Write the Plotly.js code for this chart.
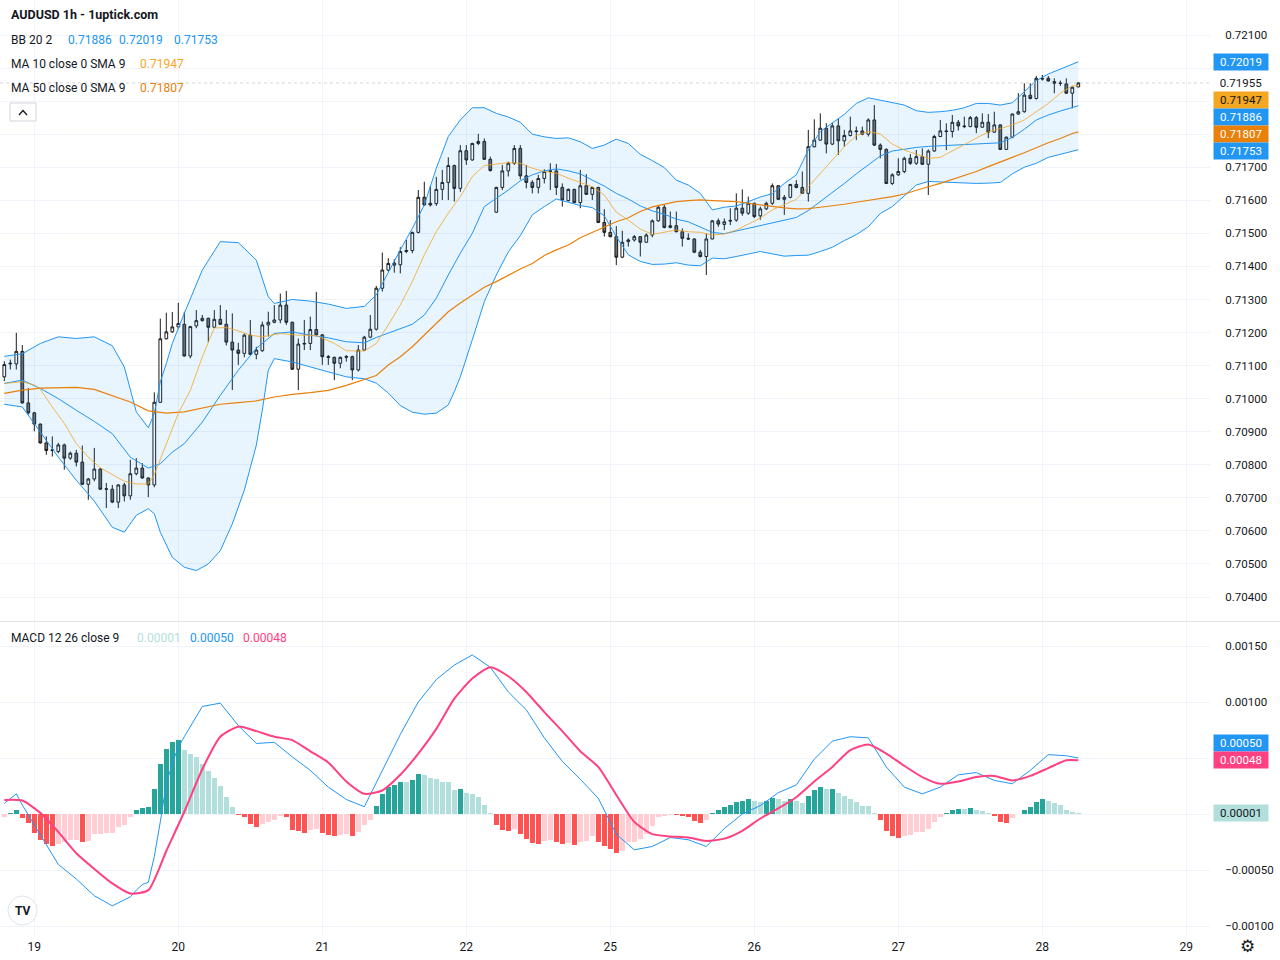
<!DOCTYPE html>
<html><head><meta charset="utf-8">
<script src="https://cdn.plot.ly/plotly-3.0.1.min.js"></script>
<style>html,body{margin:0;padding:0;background:#fff}#chart{width:1280px;height:960px}</style>
</head><body><div id="chart"></div>
<script>
// ---------- DATA ----------
const dayLabels = ['19','20','21','22','25','26','27','28','29'];

const openP = [0.71066,0.71105,0.71105,0.71143,0.70987,0.70957,0.70923,0.70866,0.70843,0.70840,
0.70860,0.70820,0.70835,0.70808,0.70741,0.70757,0.70787,0.70726,0.70726,0.70687,
0.70739,0.70706,0.70773,0.70790,0.70760,0.70739,0.70989,0.71181,0.71202,0.71217,
0.71225,0.71129,0.71220,0.71236,0.71243,0.71216,0.71240,0.71225,0.71171,0.71147,
0.71137,0.71192,0.71134,0.71145,0.71223,0.71231,0.71238,0.71283,0.71231,0.71089,
0.71165,0.71167,0.71209,0.71193,0.71127,0.71125,0.71107,0.71125,0.71127,0.71087,
0.71147,0.71186,0.71210,0.71334,0.71389,0.71404,0.71405,0.71445,0.71448,0.71503,
0.71609,0.71591,0.71590,0.71633,0.71654,0.71705,0.71636,0.71750,0.71722,0.71772,
0.71778,0.71724,0.71564,0.71639,0.71689,0.71712,0.71757,0.71674,0.71654,0.71639,
0.71666,0.71687,0.71689,0.71639,0.71599,0.71633,0.71593,0.71644,0.71618,0.71639,
0.71533,0.71503,0.71490,0.71428,0.71475,0.71480,0.71490,0.71473,0.71495,0.71538,
0.71579,0.71518,0.71523,0.71505,0.71485,0.71483,0.71443,0.71430,0.71483,0.71538,
0.71527,0.71537,0.71540,0.71576,0.71561,0.71591,0.71553,0.71574,0.71591,0.71644,
0.71603,0.71609,0.71648,0.71639,0.71621,0.71762,0.71782,0.71818,0.71770,0.71825,
0.71780,0.71796,0.71810,0.71810,0.71800,0.71843,0.71767,0.71754,0.71651,0.71677,
0.71687,0.71727,0.71712,0.71732,0.71709,0.71749,0.71793,0.71810,0.71808,0.71836,
0.71825,0.71823,0.71850,0.71821,0.71836,0.71806,0.71828,0.71754,0.71791,0.71861,
0.71868,0.71918,0.71908,0.71969,0.71969,0.71954,0.71954,0.71952,0.71924,0.71943];

const highP = [0.71113,0.71118,0.71199,0.71162,0.71032,0.70960,0.70925,0.70886,0.70886,0.70866,
0.70864,0.70840,0.70845,0.70858,0.70760,0.70851,0.70790,0.70745,0.70739,0.70741,
0.70745,0.70815,0.70820,0.70805,0.70762,0.71019,0.71242,0.71260,0.71262,0.71290,
0.71263,0.71220,0.71268,0.71253,0.71245,0.71268,0.71283,0.71268,0.71258,0.71169,
0.71197,0.71238,0.71157,0.71233,0.71263,0.71283,0.71318,0.71326,0.71233,0.71182,
0.71238,0.71248,0.71323,0.71195,0.71132,0.71127,0.71127,0.71132,0.71130,0.71162,
0.71190,0.71253,0.71341,0.71442,0.71425,0.71422,0.71458,0.71480,0.71505,0.71631,
0.71656,0.71643,0.71671,0.71692,0.71730,0.71708,0.71767,0.71767,0.71774,0.71801,
0.71787,0.71732,0.71641,0.71707,0.71717,0.71767,0.71767,0.71707,0.71661,0.71677,
0.71694,0.71712,0.71710,0.71651,0.71636,0.71635,0.71692,0.71679,0.71641,0.71641,
0.71573,0.71540,0.71522,0.71508,0.71485,0.71495,0.71492,0.71500,0.71542,0.71586,
0.71586,0.71566,0.71566,0.71515,0.71500,0.71485,0.71450,0.71500,0.71540,0.71545,
0.71545,0.71576,0.71621,0.71633,0.71611,0.71593,0.71581,0.71596,0.71651,0.71646,
0.71616,0.71649,0.71661,0.71687,0.71813,0.71845,0.71863,0.71833,0.71835,0.71848,
0.71813,0.71853,0.71823,0.71823,0.71848,0.71888,0.71772,0.71757,0.71682,0.71727,
0.71732,0.71740,0.71752,0.71757,0.71754,0.71798,0.71843,0.71833,0.71858,0.71843,
0.71853,0.71855,0.71855,0.71863,0.71861,0.71868,0.71830,0.71793,0.71863,0.71924,
0.71954,0.71954,0.71976,0.71979,0.71976,0.71969,0.71962,0.71969,0.71944,0.71957];

const lowP = [0.71053,0.71088,0.71088,0.70985,0.70952,0.70901,0.70864,0.70830,0.70825,0.70835,
0.70785,0.70815,0.70795,0.70739,0.70694,0.70750,0.70724,0.70669,0.70684,0.70669,
0.70689,0.70694,0.70768,0.70758,0.70702,0.70732,0.70987,0.71179,0.71199,0.71211,
0.71127,0.71122,0.71213,0.71233,0.71171,0.71214,0.71223,0.71161,0.71026,0.71102,
0.71125,0.71132,0.71119,0.71142,0.71188,0.71228,0.71228,0.71223,0.71087,0.71026,
0.71147,0.71147,0.71191,0.71102,0.71102,0.71056,0.71092,0.71112,0.71056,0.71082,
0.71145,0.71183,0.71206,0.71324,0.71384,0.71381,0.71379,0.71440,0.71440,0.71500,
0.71583,0.71581,0.71583,0.71601,0.71601,0.71596,0.71626,0.71707,0.71720,0.71767,
0.71722,0.71687,0.71562,0.71631,0.71672,0.71707,0.71663,0.71636,0.71621,0.71621,
0.71651,0.71631,0.71616,0.71581,0.71596,0.71591,0.71576,0.71616,0.71601,0.71531,
0.71490,0.71488,0.71404,0.71425,0.71460,0.71475,0.71430,0.71472,0.71488,0.71535,
0.71515,0.71515,0.71503,0.71460,0.71480,0.71440,0.71427,0.71374,0.71482,0.71520,
0.71510,0.71525,0.71535,0.71553,0.71556,0.71546,0.71541,0.71571,0.71586,0.71601,
0.71556,0.71606,0.71636,0.71619,0.71596,0.71760,0.71780,0.71742,0.71767,0.71737,
0.71762,0.71793,0.71782,0.71797,0.71793,0.71764,0.71727,0.71649,0.71646,0.71674,
0.71682,0.71707,0.71707,0.71707,0.71616,0.71747,0.71791,0.71752,0.71790,0.71811,
0.71818,0.71821,0.71803,0.71820,0.71788,0.71805,0.71752,0.71752,0.71788,0.71858,
0.71865,0.71905,0.71905,0.71962,0.71959,0.71924,0.71946,0.71922,0.71878,0.71942];

const closeP = [0.71103,0.71107,0.71143,0.70987,0.70957,0.70923,0.70866,0.70843,0.70845,0.70860,
0.70820,0.70835,0.70808,0.70741,0.70757,0.70787,0.70726,0.70727,0.70687,0.70739,
0.70706,0.70773,0.70790,0.70760,0.70739,0.70989,0.71181,0.71202,0.71217,0.71227,
0.71129,0.71218,0.71236,0.71243,0.71216,0.71240,0.71225,0.71171,0.71147,0.71137,
0.71192,0.71134,0.71147,0.71223,0.71231,0.71238,0.71283,0.71231,0.71089,0.71165,
0.71167,0.71209,0.71193,0.71127,0.71125,0.71107,0.71125,0.71127,0.71087,0.71147,
0.71186,0.71210,0.71334,0.71389,0.71409,0.71410,0.71445,0.71448,0.71503,0.71609,
0.71586,0.71586,0.71633,0.71654,0.71705,0.71636,0.71750,0.71722,0.71772,0.71778,
0.71724,0.71690,0.71639,0.71689,0.71712,0.71757,0.71674,0.71654,0.71639,0.71666,
0.71687,0.71689,0.71639,0.71601,0.71633,0.71593,0.71644,0.71618,0.71639,0.71533,
0.71503,0.71490,0.71428,0.71473,0.71480,0.71490,0.71473,0.71495,0.71538,0.71579,
0.71518,0.71523,0.71505,0.71485,0.71483,0.71443,0.71430,0.71483,0.71538,0.71528,
0.71535,0.71539,0.71576,0.71561,0.71591,0.71551,0.71574,0.71591,0.71644,0.71603,
0.71609,0.71648,0.71639,0.71621,0.71762,0.71782,0.71818,0.71770,0.71825,0.71780,
0.71796,0.71810,0.71808,0.71800,0.71843,0.71767,0.71754,0.71651,0.71677,0.71687,
0.71727,0.71712,0.71732,0.71709,0.71749,0.71793,0.71810,0.71808,0.71836,0.71825,
0.71823,0.71850,0.71821,0.71836,0.71806,0.71828,0.71754,0.71791,0.71861,0.71868,
0.71918,0.71908,0.71969,0.71967,0.71961,0.71959,0.71954,0.71924,0.71942,0.71955];

// Bollinger upper band (bar index, value)
const bbUpperIdx = [0,3,6,9,12,15,18,20,22,24,25,26,27,28,30,33,36,39,42,44,45,48,51,54,57,
60,62,64,66,68,70,72,74,76,78,80,82,84,86,88,90,92,94,96,98,100,102,104,106,108,110,112,114,116,118,
120,122,124,126,128,130,132,134,136,138,140,142,144,146,148,150,152,154,156,158,160,162,164,166,168,170,172,174,176,178,179];
const bbUpper = [0.71128,0.71136,0.71167,0.71187,0.71182,0.71187,0.71160,0.71096,0.70960,0.70912,0.70955,0.71051,0.71106,0.71167,0.71258,0.71389,0.71475,0.71472,0.71419,0.71308,0.71288,0.71300,0.71295,0.71286,0.71273,
0.71279,0.71314,0.71384,0.71450,0.71515,0.71586,0.71697,0.71793,0.71843,0.71880,0.71880,0.71863,0.71852,0.71836,0.71800,0.71792,0.71787,0.71789,0.71777,0.71757,0.71767,0.71785,0.71772,0.71739,0.71720,0.71699,0.71661,0.71646,0.71621,0.71571,
0.71579,0.71583,0.71596,0.71610,0.71620,0.71651,0.71677,0.71752,0.71808,0.71835,0.71860,0.71893,0.71910,0.71903,0.71895,0.71888,0.71871,0.71866,0.71868,0.71872,0.71880,0.71893,0.71893,0.71888,0.71895,0.71929,0.71962,0.71982,0.71996,0.72012,0.72019];

const bbBasisIdx = [0,3,6,9,12,15,18,21,24,26,28,30,33,36,39,42,45,48,51,54,57,
60,62,64,66,68,70,72,74,76,78,80,82,84,86,88,90,92,94,96,98,100,102,104,106,108,110,112,114,116,118,
120,122,124,126,128,130,132,134,136,138,140,142,144,146,148,150,152,154,156,158,160,162,164,166,168,170,172,174,176,178,179];
const bbBasis = [0.71046,0.71056,0.71031,0.71000,0.70965,0.70931,0.70894,0.70823,0.70790,0.70803,0.70838,0.70864,0.70929,0.71010,0.71086,0.71152,0.71197,0.71202,0.71192,0.71184,0.71172,
0.71169,0.71185,0.71198,0.71210,0.71225,0.71253,0.71304,0.71374,0.71440,0.71500,0.71581,0.71606,0.71631,0.71659,0.71677,0.71689,0.71695,0.71689,0.71680,0.71661,0.71643,0.71621,0.71604,0.71583,0.71568,0.71558,0.71543,0.71535,0.71520,0.71503,
0.71499,0.71507,0.71515,0.71525,0.71532,0.71539,0.71548,0.71569,0.71596,0.71623,0.71651,0.71680,0.71707,0.71734,0.71749,0.71755,0.71760,0.71763,0.71765,0.71767,0.71769,0.71772,0.71772,0.71774,0.71790,0.71815,0.71843,0.71858,0.71870,0.71881,0.71886];

const bbLowerIdx = [0,3,6,9,12,15,18,20,22,24,25,26,28,30,32,34,36,38,40,42,43,44,45,48,51,54,57,
60,62,64,66,68,70,72,74,75,76,78,80,82,84,86,88,90,92,94,96,98,100,102,104,106,108,110,112,114,116,118,
120,122,124,126,128,130,132,134,136,138,140,142,144,146,148,150,152,154,156,158,160,162,164,166,168,170,172,174,176,178,179];
const bbLower = [0.70983,0.70975,0.70899,0.70823,0.70753,0.70690,0.70611,0.70596,0.70647,0.70667,0.70652,0.70596,0.70520,0.70490,0.70480,0.70500,0.70540,0.70621,0.70723,0.70859,0.70965,0.71086,0.71121,0.71111,0.71096,0.71081,0.71066,
0.71060,0.71047,0.71017,0.70979,0.70959,0.70953,0.70956,0.70981,0.71021,0.71066,0.71178,0.71293,0.71374,0.71444,0.71493,0.71556,0.71581,0.71604,0.71594,0.71584,0.71578,0.71553,0.71490,0.71435,0.71415,0.71406,0.71407,0.71411,0.71404,0.71402,0.71425,
0.71423,0.71430,0.71438,0.71445,0.71438,0.71431,0.71433,0.71434,0.71445,0.71458,0.71478,0.71496,0.71520,0.71560,0.71581,0.71613,0.71646,0.71657,0.71655,0.71654,0.71653,0.71651,0.71652,0.71654,0.71680,0.71700,0.71712,0.71730,0.71739,0.71749,0.71753];

const ma10Idx = [0,3,5,6,8,10,12,14,16,18,20,22,24,25,27,29,31,33,35,37,39,41,43,46,49,52,55,57,
60,62,64,66,68,70,72,74,76,78,80,82,84,86,88,90,92,94,96,98,100,102,104,106,108,110,112,114,116,118,
120,122,124,126,128,130,132,134,136,138,140,142,144,146,148,150,152,154,156,158,160,162,164,166,168,170,172,174,176,178,179];
const ma10 = [0.71046,0.71051,0.71041,0.71028,0.70975,0.70925,0.70864,0.70823,0.70791,0.70771,0.70750,0.70742,0.70742,0.70770,0.70864,0.70955,0.71025,0.71126,0.71214,0.71215,0.71205,0.71192,0.71187,0.71197,0.71192,0.71191,0.71167,0.71145,
0.71144,0.71167,0.71223,0.71283,0.71354,0.71435,0.71505,0.71561,0.71611,0.71672,0.71705,0.71710,0.71714,0.71712,0.71697,0.71687,0.71682,0.71667,0.71653,0.71641,0.71616,0.71564,0.71540,0.71513,0.71497,0.71503,0.71510,0.71505,0.71503,0.71495,
0.71498,0.71510,0.71528,0.71546,0.71571,0.71586,0.71603,0.71641,0.71682,0.71720,0.71762,0.71796,0.71808,0.71801,0.71770,0.71752,0.71740,0.71727,0.71730,0.71749,0.71767,0.71788,0.71807,0.71817,0.71828,0.71843,0.71868,0.71893,0.71924,0.71946,0.71947];

const ma50Idx = [0,3,6,12,15,18,21,24,27,30,33,36,39,42,45,48,51,54,57,
60,62,64,66,68,70,72,74,76,78,80,82,84,86,88,90,92,94,96,98,100,102,104,106,108,110,112,114,116,118,
120,122,124,126,128,130,132,134,136,138,140,142,144,146,148,150,152,154,156,158,160,162,164,166,168,170,172,174,176,178,179];
const ma50 = [0.71016,0.71026,0.71032,0.71034,0.71028,0.71009,0.70990,0.70963,0.70956,0.70960,0.70972,0.70983,0.70988,0.70993,0.71005,0.71013,0.71018,0.71025,0.71040,
0.71057,0.71070,0.71102,0.71127,0.71157,0.71193,0.71230,0.71263,0.71289,0.71314,0.71337,0.71354,0.71374,0.71392,0.71409,0.71433,0.71450,0.71465,0.71487,0.71503,0.71520,0.71535,0.71547,0.71566,0.71580,0.71589,0.71596,0.71599,0.71601,0.71599,
0.71598,0.71596,0.71591,0.71586,0.71581,0.71577,0.71574,0.71575,0.71579,0.71583,0.71588,0.71594,0.71599,0.71606,0.71611,0.71619,0.71631,0.71641,0.71651,0.71663,0.71675,0.71687,0.71702,0.71715,0.71730,0.71744,0.71760,0.71774,0.71787,0.71802,0.71807];

const macdIdx = [0,2,3,6,9,12,15,18,21,22,23,24,25,26,27,28,29,30,33,36,39,42,45,48,51,54,57,
60,63,66,69,72,75,78,81,84,87,90,93,96,99,102,105,108,111,114,117,120,123,126,129,132,135,138,141,144,147,150,153,156,159,162,165,168,171,174,177,179];
const macdLine = [0.000095,0.00018,0.00008,-0.00019,-0.00045,-0.00058,-0.00073,-0.00082,-0.00074,-0.00068,-0.00063,-0.00061,-0.00038,-0.00007,0.00027,0.00045,0.00060,0.00069,0.00096,0.00099,0.00079,0.00063,0.00064,0.00051,0.00039,0.00024,0.00013,
0.000065,0.00039,0.00071,0.00100,0.00120,0.00133,0.00142,0.00131,0.00109,0.00093,0.00068,0.00047,0.00031,0.00014,-0.00018,-0.00032,-0.00029,-0.00021,-0.00023,-0.00029,-0.00013,0.00000,0.000075,0.00019,0.00026,0.00049,0.00065,0.00069,0.00068,0.00042,0.00024,0.00018,0.00024,0.00035,0.00037,0.00030,0.00027,0.00039,0.00053,0.00052,0.00050];

const signalIdx = [0,3,6,9,12,15,18,21,24,27,30,33,36,39,42,45,48,51,54,57,60,63,66,69,72,75,78,81,84,87,90,93,96,99,102,105,108,111,114,117,120,123,126,129,132,135,138,141,144,147,150,153,156,159,162,165,168,171,174,177,179];
const signalLine = [0.000125,0.00012,0.00001,-0.00016,-0.00035,-0.00049,-0.00062,-0.00071,-0.00068,-0.00033,0.00002,0.00040,0.00069,0.00078,0.00074,0.00069,0.00066,0.00056,0.00046,0.00029,0.00018,0.00021,0.00035,0.00054,0.00076,0.00103,0.00121,0.00131,0.00123,0.00109,0.00091,0.00074,0.00056,0.00042,0.00017,-0.00007,-0.00018,-0.00020,-0.00021,-0.00024,-0.00022,-0.00015,-0.00004,0.00005,0.00015,0.00029,0.00042,0.00057,0.00062,0.00054,0.00043,0.00033,0.00027,0.00029,0.00033,0.00034,0.00030,0.00034,0.00041,0.00048,0.00048];

const histogram = [-0.00003,0.00001,0.00004,-0.00004,-0.00008,-0.00017,-0.00023,-0.00027,-0.00029,-0.00027,
-0.00025,-0.00023,-0.00023,-0.00025,-0.00024,-0.00018,-0.00018,-0.00017,-0.00017,-0.00012,
-0.00010,-0.00003,0.00004,0.00005,0.00006,0.00022,0.00045,0.00058,0.00064,0.00066,
0.00057,0.00054,0.00051,0.00045,0.00038,0.00032,0.00025,0.00015,0.00006,-0.00001,
-0.00003,-0.00009,-0.00012,-0.00009,-0.00007,-0.00005,-0.00002,-0.00003,-0.00014,-0.00015,
-0.00017,-0.00014,-0.00013,-0.00017,-0.00019,-0.00020,-0.00019,-0.00018,-0.00020,-0.00016,
-0.00010,-0.00005,0.00007,0.00018,0.00024,0.00026,0.00029,0.000285,0.00030,0.00036,
0.00035,0.00032,0.00031,0.00029,0.000285,0.00021,0.00022,0.00019,0.00018,0.00015,
0.00008,0.00001,-0.00010,-0.00014,-0.00015,-0.00013,-0.00018,-0.00022,-0.00026,-0.000265,
-0.00024,-0.00023,-0.00025,-0.00027,-0.00026,-0.00028,-0.00025,-0.00024,-0.00020,-0.00025,
-0.00029,-0.00031,-0.00035,-0.00033,-0.00025,-0.00025,-0.00022,-0.00018,-0.00011,-0.00003,
-0.00002,-0.00001,-0.000012,-0.00002,-0.00003,-0.00006,-0.00008,-0.00005,0.00001,0.00004,
0.00006,0.00008,0.00011,0.00012,0.00013,0.00012,0.00011,0.00012,0.00014,0.00013,
0.00012,0.00013,0.00012,0.00010,0.00016,0.00021,0.00024,0.00022,0.000225,0.00019,
0.00016,0.00013,0.00011,0.00007,0.00007,0.00001,-0.00005,-0.00015,-0.00020,-0.00021,
-0.00020,-0.00019,-0.00016,-0.00016,-0.00013,-0.00007,-0.00003,0.00001,0.000036,0.000045,
0.000044,0.00005,0.00004,0.00003,0.00001,-0.00002,-0.00007,-0.00008,-0.00004,0.000003,
0.00004,0.00006,0.00011,0.00013,0.00012,0.00010,0.00008,0.00004,0.00002,0.00001];

// ---------- STYLE / LAYOUT ----------
const FONT = 'Roboto, "DejaVu Sans", sans-serif';
const TXT = '#131722';
const BLUE = '#2196f3', MA10C = '#f5a623', MA50C = '#e8800a', PINK = '#ff4081';
const GRID = '#f0f3fa';
const PW = 1210, PH = 935;               // plot area in px
const px = v => v / PW;                  // px -> paper x
const py = v => (PH - v) / PH;           // px -> paper y
const last = a => a[a.length - 1];
const f5 = v => (v < 0 ? '\u2212' : '') + Math.abs(v).toFixed(5);

const barIdx = closeP.map((_, i) => i);
const dayTicks = dayLabels.map((_, i) => 5 + 24 * i);

const histColors = histogram.map((v, i) => {
  const p = i > 0 ? histogram[i - 1] : undefined;
  if (v >= 0) return (p === undefined || v > p) ? '#26a69a' : '#b2dfdb';
  return (p === undefined || v >= p) ? '#ffcdd2' : '#ff5252';
});

const traces = [
  {x: bbLowerIdx, y: bbLower, type: 'scatter', mode: 'lines', line: {color: BLUE, width: 1}, xaxis: 'x', yaxis: 'y', hoverinfo: 'skip'},
  {x: bbUpperIdx, y: bbUpper, type: 'scatter', mode: 'lines', line: {color: BLUE, width: 1}, fill: 'tonexty', fillcolor: 'rgba(33,150,243,0.1)', xaxis: 'x', yaxis: 'y', hoverinfo: 'skip'},
  {x: bbBasisIdx, y: bbBasis, type: 'scatter', mode: 'lines', line: {color: BLUE, width: 1}, xaxis: 'x', yaxis: 'y'},
  {x: ma50Idx, y: ma50, type: 'scatter', mode: 'lines', line: {color: MA50C, width: 1.2}, xaxis: 'x', yaxis: 'y'},
  {x: ma10Idx, y: ma10, type: 'scatter', mode: 'lines', line: {color: MA10C, width: 1}, opacity: 0.8, xaxis: 'x', yaxis: 'y'},
  {x: barIdx, open: openP, high: highP, low: lowP, close: closeP, type: 'candlestick', xaxis: 'x', yaxis: 'y',
   increasing: {line: {color: '#1a1a1a', width: 1}, fillcolor: '#ffffff'},
   decreasing: {line: {color: '#1a1a1a', width: 1}, fillcolor: '#6e6e6e'}, whiskerwidth: 0},
  {x: barIdx, y: histogram, type: 'bar', marker: {color: histColors, line: {width: 0}}, width: 0.85, xaxis: 'x', yaxis: 'y2'},
  {x: macdIdx, y: macdLine, type: 'scatter', mode: 'lines', line: {color: BLUE, width: 1}, xaxis: 'x', yaxis: 'y2'},
  {x: signalIdx, y: signalLine, type: 'scatter', mode: 'lines', line: {color: PINK, width: 2, shape: 'spline', smoothing: 0.6}, xaxis: 'x', yaxis: 'y2'}
];

// y tick levels
const priceTicks = [];
for (let v = 704; v <= 721; v++) priceTicks.push(v / 1000);
const priceHidden = [0.720, 0.719, 0.718];
const macdTicks = [-0.001, -0.0005, 0, 0.0005, 0.001, 0.0015];
const macdHidden = [0, 0.0005];
const isHidden = (v, arr) => arr.some(h => Math.abs(h - v) < 1e-9);

const boxLabel = (text, ypix, bg, fg) => ({
  xref: 'paper', yref: 'paper', x: 1, y: py(ypix), xanchor: 'left', yanchor: 'middle', xshift: 3,
  text, showarrow: false, bgcolor: bg, font: {color: fg, size: 11.5, family: FONT},
  width: 52, height: 14, borderpad: 1, align: 'center'
});
const legText = (text, xpix, ypix, color, size, bold) => ({
  xref: 'paper', yref: 'paper', x: px(xpix), y: py(ypix), xanchor: 'left', yanchor: 'middle',
  text: bold ? '<b>' + text + '</b>' : text, showarrow: false,
  font: {color, size: size || 12, family: FONT}
});

const annotations = [
  legText('AUDUSD 1h - 1uptick.com', 9, 15, TXT, 12.5, true),
  legText('BB 20 2', 9, 40, TXT),
  legText(last(bbBasis).toFixed(5), 66, 40, BLUE),
  legText(last(bbUpper).toFixed(5), 117, 40, BLUE),
  legText(last(bbLower).toFixed(5), 172, 40, BLUE),
  legText('MA 10 close 0 SMA 9', 9, 64, TXT),
  legText(last(ma10).toFixed(5), 138, 64, MA10C),
  legText('MA 50 close 0 SMA 9', 9, 88, TXT),
  legText(last(ma50).toFixed(5), 138, 88, MA50C),
  legText('MACD 12 26 close 9', 9, 638, TXT),
  legText(last(histogram).toFixed(5), 135, 638, '#b2dfdb'),
  legText(last(macdLine).toFixed(5), 188, 638, BLUE),
  legText(last(signalLine).toFixed(5), 241, 638, PINK),
  // right price-scale labels
  boxLabel(last(bbUpper).toFixed(5), 62, BLUE, '#ffffff'),
  boxLabel(last(closeP).toFixed(5), 83, 'rgba(255,255,255,0)', TXT),
  boxLabel(last(ma10).toFixed(5), 100, MA10C, TXT),
  boxLabel(last(bbBasis).toFixed(5), 117, BLUE, '#ffffff'),
  boxLabel(last(ma50).toFixed(5), 134, MA50C, '#ffffff'),
  boxLabel(last(bbLower).toFixed(5), 151, BLUE, '#ffffff'),
  boxLabel(last(macdLine).toFixed(5), 743, BLUE, '#ffffff'),
  boxLabel(last(signalLine).toFixed(5), 760, PINK, '#ffffff'),
  boxLabel(last(histogram).toFixed(5), 813, '#b2dfdb', TXT),
  // TradingView logo text, gear icon
  {xref: 'paper', yref: 'paper', x: px(22.5), y: py(910.5), xanchor: 'center', yanchor: 'middle', text: '<b>TV</b>', showarrow: false, font: {size: 12, color: TXT, family: FONT}},
  {xref: 'paper', yref: 'paper', x: px(1247), y: py(946), xanchor: 'center', yanchor: 'middle', text: '\u2699', showarrow: false, font: {size: 17, color: TXT, family: '"DejaVu Sans", sans-serif'}}
];

const shapes = [
  // pane separator
  {type: 'line', xref: 'paper', yref: 'paper', x0: 0, x1: 1280 / PW, y0: py(621.5), y1: py(621.5), line: {color: '#e0e3eb', width: 1}},
  // last price dotted line
  {type: 'line', xref: 'paper', yref: 'y', x0: 0, x1: 1, y0: last(closeP), y1: last(closeP), line: {color: '#d1d4dc', width: 1, dash: 'dot'}},
  // collapse button
  {type: 'rect', xref: 'paper', yref: 'paper', x0: px(10), x1: px(36), y0: py(121), y1: py(103), line: {color: '#d1d4dc', width: 1}, fillcolor: '#ffffff'},
  {type: 'path', xref: 'paper', yref: 'paper', path: `M ${px(19)} ${py(115)} L ${px(23)} ${py(110.5)} L ${px(27)} ${py(115)}`, line: {color: TXT, width: 1.3}},
  // logo circle
  {type: 'circle', xref: 'paper', yref: 'paper', x0: px(8), x1: px(37), y0: py(925), y1: py(896), line: {color: '#e0e3eb', width: 1}, fillcolor: '#ffffff'}
];

const layout = {
  width: 1280, height: 960,
  margin: {l: 0, r: 70, t: 0, b: 25, pad: 0},
  paper_bgcolor: '#ffffff', plot_bgcolor: '#ffffff',
  showlegend: false, bargap: 0, boxgap: 0.35,
  font: {family: FONT, color: TXT, size: 12},
  xaxis: {
    domain: [0, 1], anchor: 'y2', range: [-0.717, 200.95],
    tickmode: 'array', tickvals: dayTicks, ticktext: dayLabels,
    showgrid: true, gridcolor: GRID, gridwidth: 1, zeroline: false, showline: false,
    ticks: 'outside', ticklen: 1, tickcolor: 'rgba(0,0,0,0)',
    tickfont: {size: 12, color: TXT, family: FONT},
    rangeslider: {visible: false}, fixedrange: true
  },
  yaxis: {
    domain: [(PH - 621) / PH, 1], anchor: 'x', side: 'right',
    range: [0.703274, 0.722059],
    tickmode: 'array', tickvals: priceTicks,
    ticktext: priceTicks.map(v => isHidden(v, priceHidden) ? '' : f5(v)),
    showgrid: true, gridcolor: GRID, zeroline: false, showline: false,
    ticks: 'outside', ticklen: 12, tickcolor: 'rgba(0,0,0,0)',
    tickfont: {size: 11.5, color: TXT, family: FONT}, fixedrange: true
  },
  yaxis2: {
    domain: [0, (PH - 622) / PH], anchor: 'x', side: 'right',
    range: [-0.0010804, 0.0017143],
    tickmode: 'array', tickvals: macdTicks,
    ticktext: macdTicks.map(v => isHidden(v, macdHidden) ? '' : f5(v)),
    showgrid: true, gridcolor: GRID, zeroline: false, showline: false,
    ticks: 'outside', ticklen: 12, tickcolor: 'rgba(0,0,0,0)',
    tickfont: {size: 11.5, color: TXT, family: FONT}, fixedrange: true
  },
  annotations, shapes
};

Plotly.newPlot('chart', traces, layout, {displayModeBar: false, staticPlot: true});
</script>
</body></html>
